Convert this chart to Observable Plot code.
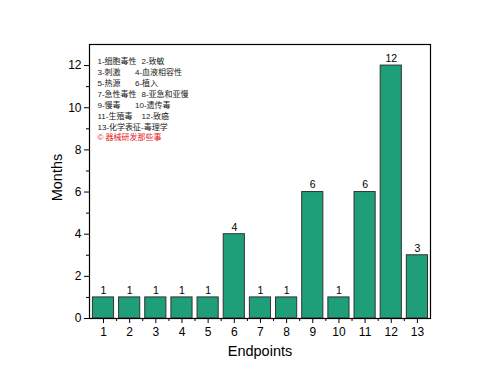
<!DOCTYPE html>
<html><head><meta charset="utf-8">
<script src="https://cdn.jsdelivr.net/npm/d3@7"></script>
<script src="https://cdn.jsdelivr.net/npm/@observablehq/plot@0.6"></script>
<style>
body{margin:0;background:#fff;}
svg{font-family:"Liberation Sans",Arial,sans-serif;}
</style></head>
<body><div id="chart"></div>
<script>
const endpoints = [1,2,3,4,5,6,7,8,9,10,11,12,13];
const months = [1,1,1,1,1,4,1,1,6,1,6,12,3];
const yMajor = [0,2,4,6,8,10,12];
const yMinor = [1,3,5,7,9,11];
const legendCol1 = ["1-细胞毒性","3-刺激","5-热源","7-急性毒性","9-慢毒","11-生殖毒","13-化学表征-毒理学"];
const legendCol2 = ["2-致敏","","","8-亚急和亚慢","","12-致癌",""];
const legendCol3 = ["","4-血液相容性","6-植入","","10-遗传毒","",""];
const credit = "© 器械研发那些事";

const data = endpoints.map((e,i)=>({e, m: months[i]}));
const xMinor = endpoints.map(e => e + 0.5).filter(v => v < 13.5);
const lh = 1.36;
const legendFont = {fontSize: 8, fill: "#1a1a1a", lineAnchor: "top", textAnchor: "start", lineHeight: lh, fontFamily: '"Liberation Sans","Noto Sans CJK SC",sans-serif'};

const plot = Plot.plot({
  width: 500, height: 382,
  marginLeft: 89, marginRight: 70, marginTop: 44, marginBottom: 64,
  style: {fontFamily: '"Liberation Sans",Arial,sans-serif', fontSize: "11px", background: "#fff"},
  x: {domain: [0.465, 13.5]},
  y: {domain: [0, 13]},
  marks: [
    Plot.rectY(data, {x1: d => d.e - 0.5, x2: d => d.e + 0.5, y: "m", fill: "#1f9f79", stroke: "#333", strokeWidth: 1, insetLeft: 2.5, insetRight: 2.5}),
    Plot.text(data, {x: "e", y: "m", text: d => String(d.m), dy: -7, fontSize: 10.5, fill: "#000"}),
    Plot.frame({stroke: "#000", strokeWidth: 1.2}),
    Plot.axisY(yMajor, {tickSize: 5, tickPadding: 3, fontSize: 12, label: null, stroke: "#000", color: "#000"}),
    Plot.axisY(yMinor, {tickSize: 3, text: null, label: null, stroke: "#000"}),
    Plot.axisX(endpoints, {tickSize: 5, tickPadding: 4, fontSize: 12, label: null, stroke: "#000", color: "#000"}),
    Plot.axisX(xMinor, {tickSize: 3, text: null, label: null, stroke: "#000"}),
    Plot.text(["Months"], {frameAnchor: "left", dx: -32, dy: -4, rotate: -90, fontSize: 14.5, fill: "#000", textAnchor: "middle"}),
    Plot.text(["Endpoints"], {frameAnchor: "bottom", dy: 37, fontSize: 14.5, fill: "#000"}),
    Plot.text([legendCol1.join("\n")], {frameAnchor: "top-left", dx: 8, dy: 12, ...legendFont}),
    Plot.text([legendCol2.join("\n")], {frameAnchor: "top-left", dx: 52, dy: 12, ...legendFont}),
    Plot.text([legendCol3.join("\n")], {frameAnchor: "top-left", dx: 45.5, dy: 12, ...legendFont}),
    Plot.text([credit], {frameAnchor: "top-left", dx: 8, dy: 12 + 7 * lh * 8, ...legendFont, fill: "#e8101a"}),
  ]
});
document.getElementById("chart").appendChild(plot);
</script>
</body></html>
